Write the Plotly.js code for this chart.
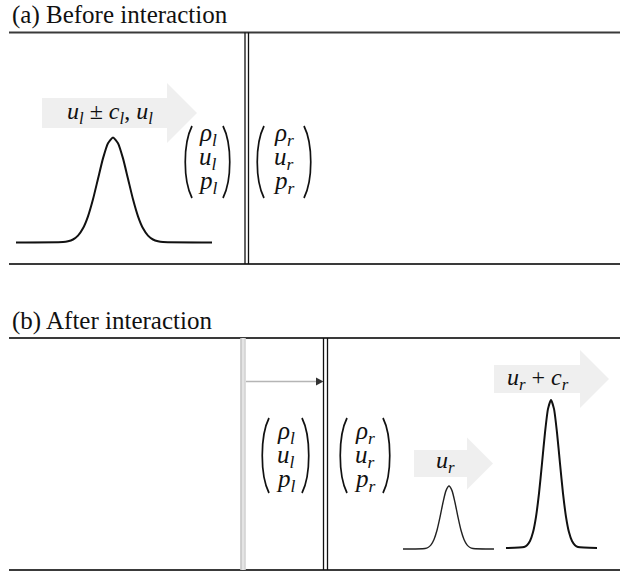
<!DOCTYPE html>
<html>
<head>
<meta charset="utf-8">
<script src="https://cdn.plot.ly/plotly-3.0.1.min.js"></script>
<style>html,body{margin:0;padding:0;background:#fff;}#chart{width:620px;height:572px;}</style>
</head>
<body>
<div id="chart"></div>
<script>
// ---- data (pixel-space schematic) ----
const panelTitles = ["(a) Before interaction", "(b) After interaction"];
const leftState  = ["<i>ρ</i><sub><i>l</i></sub>", "<i>u</i><sub><i>l</i></sub>", "<i>p</i><sub><i>l</i></sub>"];
const rightState = ["<i>ρ</i><sub><i>r</i></sub>", "<i>u</i><sub><i>r</i></sub>", "<i>p</i><sub><i>r</i></sub>"];
const speedLabels = ["<i>u</i><sub><i>l</i></sub> ± <i>c</i><sub><i>l</i></sub>, <i>u</i><sub><i>l</i></sub>",
                     "<i>u</i><sub><i>r</i></sub>",
                     "<i>u</i><sub><i>r</i></sub> + <i>c</i><sub><i>r</i></sub>"];

// pulse (a): incident wave
const pulseA_x = [16, 63, 68, 73, 78, 83, 88, 93, 98, 103, 108, 113, 118, 123, 128, 133, 138, 143, 148, 153, 158, 163, 212];
const pulseA_y = [242.5, 242.1, 241.3, 239.5, 235.6, 228.3, 216.3, 199.3, 178.8, 158.4, 143.2, 137.5, 143.2, 158.4, 178.8, 199.3, 216.3, 228.3, 235.6, 239.5, 241.3, 242.1, 242.5];
// pulse (b) small: entropy wave
const pulseB_x = [403, 425, 428, 431, 434, 437, 440, 443, 446, 449, 452, 455, 458, 461, 464, 467, 470, 473, 494];
const pulseB_y = [549, 548.5, 547.5, 544.9, 539.5, 530.3, 517.2, 502.5, 490.6, 486, 490.6, 502.5, 517.2, 530.3, 539.5, 544.9, 547.5, 548.5, 549];
// pulse (b) tall: acoustic wave
const pulseC_x = [506, 524, 527, 530, 533, 536, 539, 542, 545, 548, 551, 554, 557, 560, 563, 566, 569, 572, 575, 578, 597];
const pulseC_y = [548, 547, 545.2, 541, 532.3, 516.8, 493.4, 463.5, 432.7, 408.9, 400, 408.9, 432.7, 463.5, 493.4, 516.8, 532.3, 541, 545.2, 547, 548];

// ---- drawing ----
const serif = "Liberation Serif";
const traces = [
  {x: pulseA_x, y: pulseA_y, mode: "lines", line: {color: "#111", width: 2, shape: "spline", smoothing: 0.6}, hoverinfo: "skip", showlegend: false},
  {x: pulseB_x, y: pulseB_y, mode: "lines", line: {color: "#222", width: 1.4, shape: "spline", smoothing: 0.6}, hoverinfo: "skip", showlegend: false},
  {x: pulseC_x, y: pulseC_y, mode: "lines", line: {color: "#111", width: 2, shape: "spline", smoothing: 0.6}, hoverinfo: "skip", showlegend: false}
];

function hline(y, x0, x1, color, w) {
  return {type: "line", xref: "x", yref: "y", x0: x0, x1: x1, y0: y, y1: y, line: {color: color, width: w}};
}
function vline(x, y0, y1, color, w) {
  return {type: "line", xref: "x", yref: "y", x0: x, x1: x, y0: y0, y1: y1, line: {color: color, width: w}};
}
function bigArrow(x0, x1, yc, halfBody, halfHead) {
  const tip = x1 + halfHead;
  const p = `M ${x0},${yc - halfBody} L ${x1},${yc - halfBody} L ${x1},${yc - halfHead} L ${tip},${yc} L ${x1},${yc + halfHead} L ${x1},${yc + halfBody} L ${x0},${yc + halfBody} Z`;
  return {type: "path", xref: "x", yref: "y", path: p, fillcolor: "#efefef", line: {width: 0}, layer: "below"};
}
function parens(xl, xr, top, bot) {
  const L = `M ${xl + 7},${top} C ${xl - 2},${top + 18} ${xl - 2},${bot - 18} ${xl + 7},${bot}`;
  const R = `M ${xr - 7},${top} C ${xr + 2},${top + 18} ${xr + 2},${bot - 18} ${xr - 7},${bot}`;
  return [L, R].map(p => ({type: "path", xref: "x", yref: "y", path: p, line: {color: "#111", width: 1.7}}));
}

const shapes = [
  // panel (a)
  hline(32.5, 9, 620, "#3a3a3a", 2),
  hline(264, 9, 620, "#3a3a3a", 2),
  vline(245, 32.5, 264, "#111", 1.3),
  vline(248.5, 32.5, 264, "#111", 1.3),
  bigArrow(42, 167, 113, 15, 30),
  ...parens(185, 230, 126, 198),
  ...parens(257, 311, 126, 198),
  // panel (b)
  hline(338, 9, 620, "#3a3a3a", 2),
  hline(570, 9, 620, "#3a3a3a", 2),
  {type: "rect", xref: "x", yref: "y", x0: 240.5, x1: 245.5, y0: 338, y1: 570, fillcolor: "#e4e4e4", line: {width: 0}},
  vline(241, 338, 570, "#bdbdbd", 1.2),
  vline(245, 338, 570, "#cfcfcf", 1.2),
  vline(323.5, 338, 570, "#111", 1.3),
  vline(327.5, 338, 570, "#111", 1.3),
  {type: "line", xref: "x", yref: "y", x0: 246, x1: 317, y0: 381.5, y1: 381.5, line: {color: "#b5b5b5", width: 1.5}},
  {type: "path", xref: "x", yref: "y", path: "M 316,377.5 L 323.5,381.5 L 316,385.5 Z", fillcolor: "#333", line: {width: 0}},
  bigArrow(494, 580, 379, 14, 29),
  bigArrow(414, 467, 463.5, 13.5, 26),
  ...parens(262, 309, 418, 493),
  ...parens(340, 390, 418, 493)
];

function txt(x, y, text, size, anchor) {
  return {x: x, y: y, xref: "x", yref: "y", text: text, showarrow: false,
          xanchor: anchor || "center", yanchor: "middle",
          font: {family: serif, size: size, color: "#111"}};
}
const annotations = [
  txt(10, 15, panelTitles[0], 25, "left"),
  txt(10, 321, panelTitles[1], 25, "left"),
  txt(110, 113, speedLabels[0], 24),
  txt(445, 462, speedLabels[1], 24),
  txt(538, 379, speedLabels[2], 24)
];
const rowsA = [134, 158, 182], rowsB = [432, 456, 480];
for (let i = 0; i < 3; i++) {
  annotations.push(txt(208, rowsA[i], leftState[i], 25));
  annotations.push(txt(284, rowsA[i], rightState[i], 25));
  annotations.push(txt(286, rowsB[i], leftState[i], 25));
  annotations.push(txt(365, rowsB[i], rightState[i], 25));
}

const layout = {
  width: 620, height: 572,
  margin: {l: 0, r: 0, t: 0, b: 0, pad: 0},
  paper_bgcolor: "#fff", plot_bgcolor: "#fff",
  font: {family: serif},
  xaxis: {range: [0, 620], visible: false, fixedrange: true},
  yaxis: {range: [572, 0], visible: false, fixedrange: true},
  shapes: shapes,
  annotations: annotations,
  showlegend: false
};
Plotly.newPlot("chart", traces, layout, {displayModeBar: false});
</script>
</body>
</html>
